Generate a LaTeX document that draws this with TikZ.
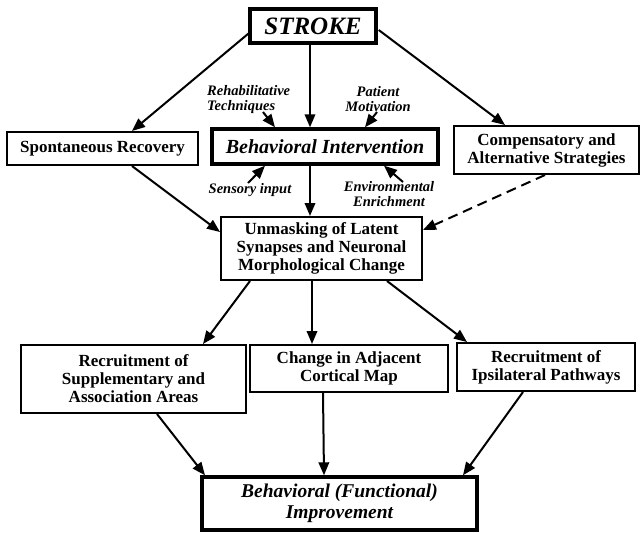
\documentclass[tikz,border=0pt]{standalone}
\usepackage{fontspec}
\setmainfont{Liberation Serif}
\usetikzlibrary{arrows.meta}
\tikzset{
  box/.style={draw, line width=2pt, inner sep=0pt, align=center,
    font=\fontsize{17}{18}\selectfont\bfseries},
  thickbox/.style={box, line width=3.4pt},
  lbl/.style={inner sep=0pt, font=\fontsize{14.5}{15}\selectfont\bfseries\itshape},
  arr/.style={line width=2pt, -{Triangle[length=13pt,width=10.5pt]}},
  dasharr/.style={arr, dash pattern=on 10pt off 6pt}
}
\begin{document}
\begin{tikzpicture}[x=1pt,y=-1pt]
\useasboundingbox (0,0) rectangle (640,533);
% boxes
\node[thickbox, minimum width=126pt, minimum height=34pt,
  font=\fontsize{25}{26}\selectfont\bfseries\itshape] (stroke) at (313,26) {STROKE};
\node[box, minimum width=191pt, minimum height=33pt] (spont) at (102.5,148.5) {Spontaneous Recovery};
\node[thickbox, minimum width=226pt, minimum height=35pt,
  font=\fontsize{20}{22}\selectfont\bfseries\itshape] (behav) at (325,146.5) {Behavioral Intervention};
\node[box, minimum width=185pt, minimum height=48pt] (comp) at (546.5,150) {Compensatory and\\Alternative Strategies};
\node[box, minimum width=201pt, minimum height=63pt] (unmask) at (321.5,248.5) {Unmasking of Latent\\Synapses and Neuronal\\Morphological Change};
\node[box, minimum width=225pt, minimum height=68pt] (supp) at (133.5,379) {Recruitment of\\Supplementary and\\Association Areas};
\node[box, minimum width=198pt, minimum height=47pt] (change) at (349,368.5) {Change in Adjacent\\Cortical Map};
\node[box, minimum width=178pt, minimum height=48pt] (ipsi) at (546,367) {Recruitment of\\Ipsilateral Pathways};
\node[thickbox, minimum width=275pt, minimum height=53pt,
  font=\fontsize{19.5}{20.5}\selectfont\bfseries\itshape] (improve) at (339.5,503.5) {Behavioral (Functional)\\Improvement};
% labels
\node[lbl, align=left, anchor=west] (rehab) at (207,99.5) {Rehabilitative\\Techniques};
\node[lbl, align=center] (patient) at (378,99.5) {Patient\\Motivation};
\node[lbl] (sensory) at (250,190) {Sensory input};
\node[lbl, align=center] (env) at (389,194.5) {Environmental\\Enrichment};
\coordinate (rehabA) at (263,112);
\coordinate (patientA) at (377,112);
\coordinate (sensoryA) at (248,183);
\coordinate (envA) at (403,182);
% connectors
\draw[arr] ([shift={(2,6)}]stroke.west) -- ([shift={(29.5,0)}]spont.north);
\draw[arr] ([shift={(1,4)}]stroke.east) -- ([shift={(-41.5,0)}]comp.north);
\draw[arr] ([shift={(-3,0)}]stroke.south) -- ([shift={(-15,0)}]behav.north);
\draw[arr] (rehabA) -- ([shift={(-50,0)}]behav.north);
\draw[arr] (patientA) -- ([shift={(40,0)}]behav.north);
\draw[arr] (sensoryA) -- ([shift={(-60,0)}]behav.south);
\draw[arr] (envA) -- ([shift={(59,0)}]behav.south);
\draw[arr] ([shift={(-15,0)}]behav.south) -- ([shift={(-11.5,0)}]unmask.north);
\draw[arr] ([shift={(29.5,0)}]spont.south) -- ([shift={(0,-16.5)}]unmask.west);
\draw[dasharr] ([shift={(-1.5,0)}]comp.south) -- ([shift={(0,-18.5)}]unmask.east);
\draw[arr] ([shift={(-71.5,0)}]unmask.south) -- ([shift={(69.5,0)}]supp.north);
\draw[arr] ([shift={(-9.5,0)}]unmask.south) -- ([shift={(-37,0)}]change.north);
\draw[arr] ([shift={(65.5,0)}]unmask.south) -- ([shift={(-79,0)}]ipsi.north);
\draw[arr] ([shift={(23.5,0)}]supp.south) -- ([shift={(-134.5,0)}]improve.north);
\draw[arr] ([shift={(-26,0)}]change.south) -- ([shift={(-15.5,0)}]improve.north);
\draw[arr] ([shift={(-23,0)}]ipsi.south) -- ([shift={(123.5,0)}]improve.north);
\end{tikzpicture}
\end{document}
